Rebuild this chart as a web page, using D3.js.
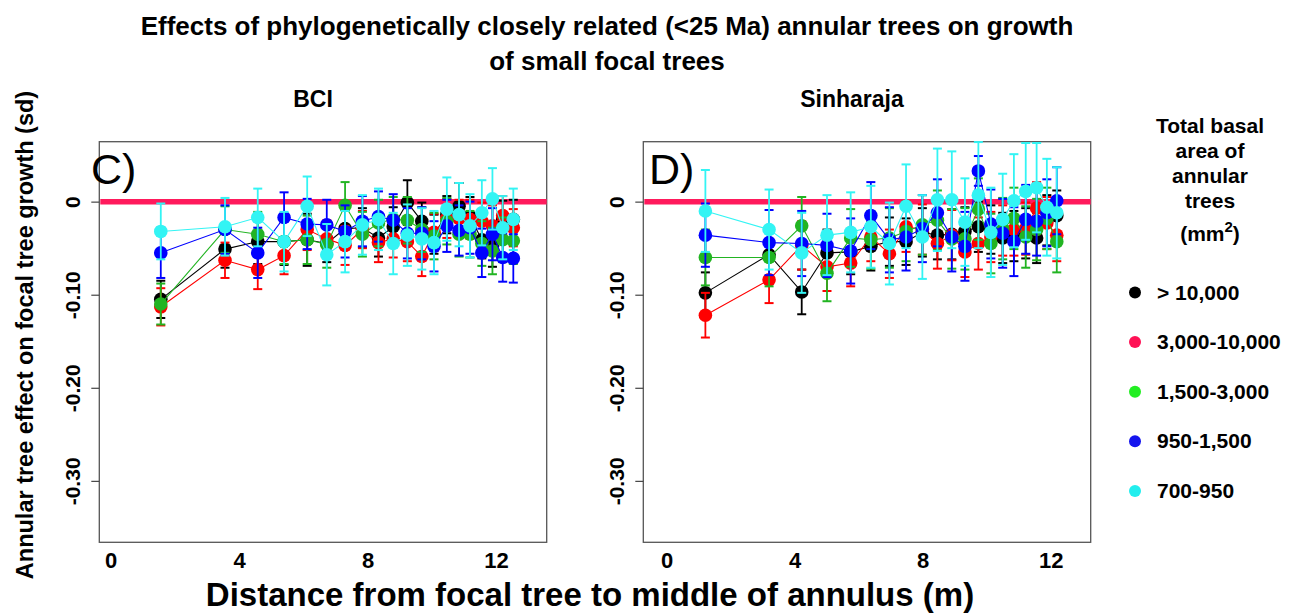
<!DOCTYPE html>
<html>
<head>
<meta charset="utf-8">
<script src="https://cdn.jsdelivr.net/npm/d3@7"></script>
<style>
  html, body { margin: 0; padding: 0; background: #fff; }
  svg { display: block; font-family: "Liberation Sans", Arial, Helvetica, sans-serif; }
</style>
</head>
<body>
<svg id="chart" width="1300" height="613"></svg>
<script>
// ---------- DATA ----------
const seriesNames = ["> 10,000", "3,000-10,000", "1,500-3,000", "950-1,500", "700-950"];
const yTicks = [0, -0.1, -0.2, -0.3];
const xTicks = [0, 4, 8, 12];

// BCI (panel C)
const bciDist = [1.56, 3.56, 4.58, 5.40, 6.12, 6.73, 7.30, 7.84, 8.34, 8.80, 9.24, 9.69, 10.07, 10.47, 10.85, 11.19, 11.56, 11.89, 12.21, 12.54];
const bciBlack = [-0.105, -0.051, -0.043, -0.043, -0.041, -0.045, -0.029, -0.028, -0.039, -0.027, -0.001, -0.021, -0.035, -0.014, -0.005, -0.016, -0.041, -0.048, -0.019, -0.019];
const bciRed   = [-0.113, -0.063, -0.073, -0.058, -0.030, -0.040, -0.047, -0.030, -0.044, -0.040, -0.043, -0.059, -0.033, -0.018, -0.018, -0.019, -0.021, -0.026, -0.015, -0.028];
const bciGreen = [-0.110, -0.030, -0.035, -0.043, -0.041, -0.046, -0.004, -0.035, -0.023, -0.019, -0.020, -0.030, -0.037, -0.021, -0.035, -0.035, -0.045, -0.053, -0.041, -0.042];
const bciBlue  = [-0.055, -0.030, -0.055, -0.017, -0.024, -0.025, -0.032, -0.021, -0.016, -0.020, -0.034, -0.034, -0.048, -0.026, -0.031, -0.028, -0.055, -0.035, -0.060, -0.061];
const bciCyan  = [-0.032, -0.027, -0.017, -0.043, -0.005, -0.057, -0.043, -0.025, -0.019, -0.045, -0.036, -0.040, -0.044, -0.008, -0.014, -0.026, -0.012, 0.003, -0.028, -0.019];
const bciBlackSe = [0.020, 0.020, 0.024, 0.025, 0.028, 0.020, 0.020, 0.021, 0.020, 0.021, 0.024, 0.020, 0.021, 0.020, 0.025, 0.021, 0.020, 0.022, 0.020, 0.021];
const bciRedSe   = [0.020, 0.019, 0.021, 0.020, 0.022, 0.020, 0.021, 0.020, 0.021, 0.020, 0.021, 0.021, 0.020, 0.021, 0.020, 0.021, 0.020, 0.022, 0.021, 0.020];
const bciGreenSe = [0.022, 0.025, 0.024, 0.024, 0.026, 0.025, 0.025, 0.024, 0.025, 0.024, 0.025, 0.024, 0.025, 0.025, 0.024, 0.025, 0.024, 0.025, 0.024, 0.025];
const bciBlueSe  = [0.027, 0.026, 0.027, 0.027, 0.027, 0.027, 0.028, 0.027, 0.027, 0.028, 0.027, 0.028, 0.027, 0.028, 0.027, 0.028, 0.026, 0.028, 0.026, 0.026];
const bciCyanSe  = [0.030, 0.031, 0.031, 0.032, 0.032, 0.033, 0.033, 0.032, 0.033, 0.033, 0.033, 0.033, 0.034, 0.034, 0.034, 0.034, 0.035, 0.033, 0.034, 0.033];

// Sinharaja (panel D)
const sinDist = [1.21, 3.20, 4.22, 5.01, 5.75, 6.38, 6.96, 7.48, 7.99, 8.46, 8.91, 9.32, 9.74, 10.13, 10.50, 10.85, 11.22, 11.56, 11.88, 12.19];
const sinBlack = [-0.098, -0.057, -0.097, -0.055, -0.054, -0.048, -0.043, -0.043, -0.033, -0.036, -0.035, -0.032, -0.027, -0.030, -0.039, -0.037, -0.034, -0.039, -0.020, -0.015];
const sinRed   = [-0.122, -0.084, -0.047, -0.070, -0.066, -0.038, -0.056, -0.027, -0.030, -0.045, -0.036, -0.054, -0.045, -0.038, -0.031, -0.030, -0.029, -0.007, -0.023, -0.036];
const sinGreen = [-0.060, -0.060, -0.026, -0.077, -0.039, -0.041, -0.039, -0.032, -0.025, -0.020, -0.040, -0.040, -0.008, -0.045, -0.029, -0.018, -0.038, -0.030, -0.018, -0.043];
const sinBlue  = [-0.036, -0.044, -0.045, -0.047, -0.053, -0.015, -0.041, -0.038, -0.029, -0.012, -0.038, -0.048, 0.033, -0.024, -0.034, -0.043, -0.019, -0.021, -0.012, 0.001];
const sinCyan  = [-0.010, -0.030, -0.055, -0.036, -0.033, -0.027, -0.045, -0.005, -0.038, 0.002, 0.002, -0.022, 0.007, -0.033, -0.019, 0.001, 0.011, 0.015, -0.006, -0.012];
const sinBlackSe = [0.022, 0.024, 0.024, 0.025, 0.024, 0.026, 0.026, 0.025, 0.026, 0.026, 0.027, 0.026, 0.027, 0.026, 0.027, 0.027, 0.027, 0.027, 0.027, 0.027];
const sinRedSe   = [0.024, 0.025, 0.026, 0.026, 0.025, 0.026, 0.026, 0.027, 0.027, 0.027, 0.027, 0.027, 0.028, 0.027, 0.027, 0.028, 0.028, 0.028, 0.028, 0.028];
const sinGreenSe = [0.030, 0.031, 0.031, 0.030, 0.031, 0.031, 0.032, 0.032, 0.032, 0.032, 0.032, 0.033, 0.033, 0.032, 0.033, 0.033, 0.033, 0.033, 0.033, 0.033];
const sinBlueSe  = [0.034, 0.035, 0.035, 0.034, 0.035, 0.036, 0.035, 0.036, 0.036, 0.036, 0.037, 0.037, 0.016, 0.037, 0.037, 0.037, 0.037, 0.037, 0.036, 0.036];
const sinCyanSe  = [0.044, 0.043, 0.043, 0.043, 0.043, 0.044, 0.044, 0.045, 0.045, 0.055, 0.052, 0.047, 0.057, 0.048, 0.049, 0.050, 0.052, 0.048, 0.052, 0.049];

// ---------- STYLE ----------
const plotColors = ["#000000", "#ff0000", "#22b422", "#0000ff", "#33f4f4"];
const legendColors = ["#000000", "#ff1155", "#22ee22", "#1515ee", "#22eeee"];
const zeroColor = "#ff1a5c";

const svg = d3.select("#chart");

const y = d3.scaleLinear().domain([0.0644, -0.366]).range([141.7, 542.3]);

const panels = [
  { title: "BCI", titleX: 313, label: "C)", labelX: 91,
    x: d3.scaleLinear().domain([-0.355, 13.58]).range([99.3, 546.7]),
    dist: bciDist,
    vals: [bciBlack, bciRed, bciGreen, bciBlue, bciCyan],
    ses: [bciBlackSe, bciRedSe, bciGreenSe, bciBlueSe, bciCyanSe] },
  { title: "Sinharaja", titleX: 852, label: "D)", labelX: 649,
    x: d3.scaleLinear().domain([-0.73, 13.25]).range([643.3, 1090.7]),
    dist: sinDist,
    vals: [sinBlack, sinRed, sinGreen, sinBlue, sinCyan],
    ses: [sinBlackSe, sinRedSe, sinGreenSe, sinBlueSe, sinCyanSe] }
];

panels.forEach(p => {
  const g = svg.append("g");
  const [x0, x1] = p.x.range();
  const [yTop, yBot] = y.range();

  g.append("rect").attr("x", x0).attr("y", yTop)
    .attr("width", x1 - x0).attr("height", yBot - yTop)
    .attr("fill", "#fff").attr("stroke", "#555").attr("stroke-width", 1.3);

  const ya = g.append("g").attr("transform", `translate(${x0},0)`)
    .call(d3.axisLeft(y).tickValues(yTicks).tickSize(8).tickPadding(0)
      .tickFormat(d => d === 0 ? "0" : d.toFixed(2)));
  ya.select(".domain").remove();
  ya.selectAll(".tick line").attr("stroke", "#444").attr("stroke-width", 1.2);
  ya.selectAll(".tick text")
    .attr("x", null).attr("dy", null)
    .attr("transform", "translate(-27,0) rotate(-90)")
    .attr("text-anchor", "middle").attr("dy", "0.36em")
    .attr("fill", "#000").style("font-size", "21px").style("font-weight", "bold")
    .style("font-family", "Liberation Sans, Arial, sans-serif");

  const xa = g.append("g").attr("transform", `translate(0,${yBot})`)
    .call(d3.axisBottom(p.x).tickValues(xTicks).tickSize(0).tickFormat(d3.format("d")));
  xa.select(".domain").remove();
  xa.selectAll(".tick text").attr("y", 26).attr("dy", null)
    .attr("fill", "#000").style("font-size", "22px").style("font-weight", "bold")
    .style("font-family", "Liberation Sans, Arial, sans-serif");

  g.append("line").attr("x1", x0 + 1).attr("x2", x1)
    .attr("y1", y(0)).attr("y2", y(0))
    .attr("stroke", zeroColor).attr("stroke-width", 5.5);

  g.append("text").attr("x", p.labelX).attr("y", 184)
    .style("font-size", "43px").style("font-weight", "normal").text(p.label);

  svg.append("text").attr("x", p.titleX).attr("y", 107)
    .attr("text-anchor", "middle").style("font-size", "23px").style("font-weight", "bold")
    .text(p.title);

  p.vals.forEach((vals, si) => {
    const col = plotColors[si];
    const pts = vals.map((v, i) => ({ x: p.dist[i], v, se: p.ses[si][i] }));
    const sg = g.append("g");
    sg.append("path").datum(pts)
      .attr("d", d3.line().x(d => p.x(d.x)).y(d => y(d.v)))
      .attr("fill", "none").attr("stroke", col).attr("stroke-width", 1.1);
    const eb = sg.selectAll(".eb").data(pts).enter().append("g");
    eb.append("line")
      .attr("x1", d => p.x(d.x)).attr("x2", d => p.x(d.x))
      .attr("y1", d => y(d.v - d.se)).attr("y2", d => y(d.v + d.se))
      .attr("stroke", col).attr("stroke-width", 1.8);
    [-1, 1].forEach(s => {
      eb.append("line")
        .attr("x1", d => p.x(d.x) - 4.5).attr("x2", d => p.x(d.x) + 4.5)
        .attr("y1", d => y(d.v + s * d.se)).attr("y2", d => y(d.v + s * d.se))
        .attr("stroke", col).attr("stroke-width", 2);
    });
    sg.selectAll("circle").data(pts).enter().append("circle")
      .attr("cx", d => p.x(d.x)).attr("cy", d => y(d.v)).attr("r", 6.8)
      .attr("fill", col);
  });
});

svg.append("text").attr("x", 607).attr("y", 35).attr("text-anchor", "middle")
  .style("font-size", "26px").style("font-weight", "bold")
  .text("Effects of phylogenetically closely related (<25 Ma) annular trees on growth");
svg.append("text").attr("x", 607).attr("y", 70).attr("text-anchor", "middle")
  .style("font-size", "26px").style("font-weight", "bold")
  .text("of small focal trees");

svg.append("text").attr("transform", "translate(33,335) rotate(-90)")
  .attr("text-anchor", "middle").style("font-size", "23.5px").style("font-weight", "bold")
  .text("Annular tree effect on focal tree growth (sd)");
svg.append("text").attr("x", 590).attr("y", 606).attr("text-anchor", "middle")
  .style("font-size", "33px").style("font-weight", "bold")
  .text("Distance from focal tree to middle of annulus (m)");

const lg = svg.append("g");
const legTitle = ["Total basal", "area of", "annular", "trees"];
legTitle.forEach((t, i) => {
  lg.append("text").attr("x", 1210).attr("y", 133 + i * 25).attr("text-anchor", "middle")
    .style("font-size", "21px").style("font-weight", "bold").text(t);
});
const mm = lg.append("text").attr("x", 1210).attr("y", 241).attr("text-anchor", "middle")
  .style("font-size", "21px").style("font-weight", "bold");
mm.append("tspan").text("(mm");
mm.append("tspan").attr("dy", -9).style("font-size", "15px").text("2");
mm.append("tspan").attr("dy", 9).text(")");

seriesNames.forEach((name, i) => {
  const cy = 292.5 + i * 49.6;
  lg.append("circle").attr("cx", 1135).attr("cy", cy).attr("r", 6).attr("fill", legendColors[i]);
  lg.append("text").attr("x", 1157).attr("y", cy + 7)
    .style("font-size", "21px").style("font-weight", "bold").text(name);
});
</script>
</body>
</html>
